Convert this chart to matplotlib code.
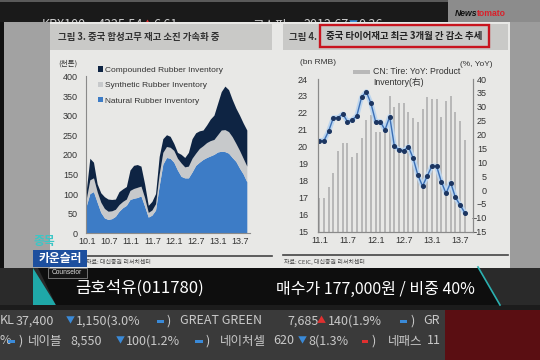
import matplotlib
matplotlib.use('Agg')
import matplotlib.pyplot as plt
from matplotlib.patches import Rectangle, Polygon, Patch
from matplotlib.lines import Line2D
from matplotlib import font_manager as fm

W, H, DPI = 540, 360, 100

installed = {f.name for f in fm.fontManager.ttflist}
NARROW = 'Liberation Sans Narrow' if 'Liberation Sans Narrow' in installed else 'Liberation Sans'
KR = 'Noto Sans CJK KR'
plt.rcParams['font.family'] = [NARROW, KR, 'DejaVu Sans']
plt.rcParams['axes.unicode_minus'] = True

# ---------------- data: Chinese rubber inventory (thousand tons), monthly 2010.1 - 2013.9
rubber_ticks = ['10.1', '10.7', '11.1', '11.7', '12.1', '12.7', '13.1', '13.7']
natural = [68, 100, 105, 78, 52, 38, 34, 36, 42, 55, 64, 70, 85, 88, 90, 94, 68, 40, 45, 58,
           120, 175, 192, 190, 180, 160, 144, 140, 140, 155, 172, 180, 187, 192, 196, 200,
           206, 208, 207, 203, 192, 182, 165, 150, 130]
synthetic = [17, 35, 35, 27, 26, 24, 21, 20, 18, 17, 16, 16, 23, 25, 26, 25, 22, 12, 13, 16,
             30, 30, 28, 28, 30, 30, 34, 28, 30, 35, 31, 35, 35, 38, 39, 38,
             44, 54, 56, 55, 53, 46, 45, 40, 40]
compounded = [21, 55, 40, 20, 24, 30, 31, 29, 26, 33, 32, 32, 52, 59, 58, 51, 35, 18, 22, 26,
              45, 35, 30, 28, 18, 15, 22, 24, 35, 50, 52, 45, 40, 45, 55, 62,
              80, 98, 111, 107, 95, 90, 90, 90, 92]
rubber_labels = ['Natural Rubber Inventory', 'Synthetic Rubber Inventory',
                 'Compounded Rubber Inventory']

# ---------------- data: China tire inventory, monthly 2011.1 - 2013.8
tire_ticks = ['11.1', '11.7', '12.1', '12.7', '13.1', '13.7']
tire_level = [20.37, 20.37, 20.94, 21.72, 21.72, 21.94, 21.49, 21.58, 21.84, 22.92, 23.25,
              22.57, 21.49, 21.49, 21.0, 21.78, 20.05, 19.82, 19.78, 20.01, 19.33, 18.34,
              17.69, 18.28, 18.87, 18.87, 17.95, 17.26, 17.89, 17.03, 16.58, 16.12]
tire_yoy = [-3, -3, 1, 6, 14.2, 16.8, 16.8, 11.8, 13.5, 18.6, 25.2, 27, 21, 21, 21.5, 34,
            29.8, 31.2, 31.5, 28.2, 25.8, 24.6, 29.1, 33.4, 32.7, 32.7, 26.2, 32.2, 34,
            28.2, 24.9, 18.0]
tire_legend = ['CN: Tire: YoY: Product', 'Inventory(右)']

title3 = '그림 3. 중국 합성고무 재고 소진 가속화 중'
title4_a = '그림 4.'
title4_b = '중국 타이어재고 최근 3개월 간 감소 추세'
stock_name = '금호석유(011780)'
stock_info = '매수가 177,000원 / 비중 40%'

fig = plt.figure(figsize=(W / DPI, H / DPI), dpi=DPI)
fig.patch.set_facecolor('#1a1a1a')


def R(x0, y0, x1, y1, color, z, **kw):
    fig.add_artist(Rectangle((x0 / W, 1 - y1 / H), (x1 - x0) / W, (y1 - y0) / H,
                             transform=fig.transFigure, facecolor=color,
                             edgecolor=kw.pop('ec', 'none'), zorder=z, **kw))


def T(x, y, s, **kw):
    kw.setdefault('va', 'center')
    return fig.text(x / W, 1 - y / H, s, **kw)


def HL(x0, x1, y, color, lw, z=2):
    fig.add_artist(Line2D([x0 / W, x1 / W], [1 - y / H, 1 - y / H], transform=fig.transFigure,
                          color=color, lw=lw, zorder=z))


def axes_px(x0, y0, x1, y1):
    return fig.add_axes([x0 / W, 1 - y1 / H, (x1 - x0) / W, (y1 - y0) / H])


KRF = [KR, 'DejaVu Sans']

# ---------------- background pieces
R(0, 0, 540, 2, '#5a5a5a', 0.1)
R(448, 0, 540, 22, '#8c8c8c', 0.1)
T(455, 14, 'News', fontsize=6.2, fontweight='bold', style='italic', color='#111', zorder=0.2)
T(477, 14, 'tomato', fontsize=6.2, fontweight='bold', color='#d8202a', zorder=0.2)

top_items = [(42, 'KRX100', '#cfcfcf', 9), (98, '4325.54', '#cfcfcf', 9), (143, '▲', '#e03030', 6.5),
             (153, '6.61', '#cfcfcf', 9), (252, '코스피', '#cfcfcf', 9), (303, '2012.67', '#cfcfcf', 9),
             (349, '▼', '#3a8ad8', 6.5), (358, '0.36', '#cfcfcf', 9)]
for x, s, c, fs in top_items:
    T(x, 25, s, fontsize=fs, color=c, family=KRF, zorder=0.3)

R(0, 22, 540, 268, '#a2a2a2', 0.6)
R(0, 22, 4, 268, '#101010', 0.62)
R(510, 22, 540, 310, '#9c9c9c', 0.6)
R(0, 268, 540, 310, '#2a2a2a', 0.6)
R(50, 22, 510, 268, '#e8e8e6', 0.7)
R(50, 24, 272, 50, '#c9c9c7', 0.72)
R(283, 24, 508, 50, '#c9c9c7', 0.72)

# titles
T(58, 37, title3, fontsize=6.8, fontweight='bold', color='#333', family=KRF, zorder=3)
T(289, 37, title4_a, fontsize=6.8, fontweight='bold', color='#333', family=KRF, zorder=3)
T(326, 36, title4_b, fontsize=6.8, fontweight='bold', color='#222', family=KRF, zorder=3)
fig.add_artist(Rectangle((320 / W, 1 - 47 / H), 169 / W, 22 / H, transform=fig.transFigure,
                         facecolor='none', edgecolor='#c8141e', lw=1.7, zorder=3))

# ---------------- left chart: stacked area
axL = axes_px(85.7, 76.4, 249.5, 233.3)
axL.set_zorder(1)
axL.patch.set_visible(False)
months_r = list(range(len(natural)))
cols = ['#3d7cc6', '#c7c9cb', '#0e2443']
axL.stackplot(months_r, natural, synthetic, compounded, colors=cols, labels=rubber_labels, lw=0)
axL.set_xlim(-0.27, 44.6)
axL.set_ylim(0, 400)
axL.set_yticks(range(0, 401, 50))
axL.set_xticks(range(0, 43, 6))
axL.set_xticklabels(rubber_ticks)
for s in ['top', 'right']:
    axL.spines[s].set_visible(False)
for s in ['left', 'bottom']:
    axL.spines[s].set_color('#8a8a8a')
    axL.spines[s].set_linewidth(0.8)
axL.tick_params(axis='both', length=0, labelsize=6.5, labelcolor='#333')
axL.tick_params(axis='y', pad=5.5)
axL.tick_params(axis='x', pad=3)
T(78, 64, '(천톤)', fontsize=5.5, color='#333', ha='right', family=KRF, zorder=3)
handles = [Patch(facecolor=c, edgecolor='none') for c in cols][::-1]
leg = axL.legend(handles, rubber_labels[::-1], loc='upper left',
                 bbox_to_anchor=(98 / W, 1 - 66.5 / H), bbox_transform=fig.transFigure,
                 frameon=False, fontsize=6, handlelength=0.55, handleheight=0.55,
                 handletextpad=0.25, labelspacing=0.95, borderpad=0, borderaxespad=0)
for t in leg.get_texts():
    t.set_color('#333')

# ---------------- right chart: bars (right axis) + line (left axis)
axB = axes_px(317.7, 79, 472.7, 231.7)
axB.set_zorder(1)
axB.patch.set_visible(False)
months_t = list(range(len(tire_yoy)))
axB.bar(months_t, [v + 15 for v in tire_yoy], bottom=-15, width=0.42, color='#b8b8b8', lw=0)
axB.set_ylim(-15, 40)
axB.set_yticks(range(-15, 41, 5))
axB.set_xlim(-0.35, 32.7)
axB.set_xticks(range(0, 31, 6))
axB.set_xticklabels(tire_ticks)

axN = axB.twinx()
axN.set_zorder(1.1)
axN.patch.set_visible(False)
axN.plot(months_t, tire_level, color='#bcd5ee', lw=3.6, solid_capstyle='round')
axN.plot(months_t, tire_level, color='#3b6fb5', lw=1.0, marker='o', ms=2.6,
         mfc='#1c3560', mec='#1c3560')
axN.set_ylim(15, 24)
axN.set_yticks(range(15, 25))

axB.yaxis.tick_right()
axB.yaxis.set_label_position('right')
axN.yaxis.tick_left()
axN.yaxis.set_label_position('left')
axB.tick_params(axis='both', length=0, labelsize=6.5, labelcolor='#333')
axB.tick_params(axis='y', pad=10.3, labelleft=False, labelright=True)
axB.tick_params(axis='x', pad=3)
axN.tick_params(axis='both', length=0, labelsize=6.5, labelcolor='#333')
axN.tick_params(axis='y', pad=7, labelleft=True, labelright=False)
for lab in axB.get_yticklabels():
    lab.set_horizontalalignment('right')
for ax in (axB, axN):
    ax.spines['top'].set_visible(False)
    for s in ['left', 'right', 'bottom']:
        ax.spines[s].set_color('#8a8a8a')
        ax.spines[s].set_linewidth(0.8)

T(300, 63, '(bn RMB)', fontsize=6, color='#333', zorder=3)
T(493, 64, '(%, YoY)', fontsize=6, color='#333', ha='right', zorder=3)
R(353, 69.5, 370, 73.5, '#b8b8b8', 3)
T(373, 71, tire_legend[0], fontsize=6.3, color='#333', zorder=3)
T(373, 82, tire_legend[1], fontsize=6.3, color='#333', family=[NARROW, KR], zorder=3)

# source lines
HL(88, 272, 256, '#444', 1.2)
HL(283, 508, 255, '#444', 1.2)
T(86, 262, '자료: 대신증권 리서치센터', fontsize=4.3, color='#444', family=KRF, zorder=3)
T(284, 262, '자료: CEIC, 대신증권 리서치센터', fontsize=4.3, color='#444', family=KRF, zorder=3)

# ---------------- bottom banner
fig.add_artist(Polygon([(33 / W, 1 - 268 / H), (33 / W, 1 - 305 / H), (56 / W, 1 - 305 / H)],
                       closed=True, transform=fig.transFigure, facecolor='#1fa8a8',
                       edgecolor='none', zorder=4))
fig.add_artist(Polygon([(38 / W, 1 - 268 / H), (478 / W, 1 - 268 / H), (500 / W, 1 - 305 / H),
                        (56 / W, 1 - 305 / H)], closed=True, transform=fig.transFigure,
                       facecolor='#0e0e0e', edgecolor='none', zorder=4))
fig.add_artist(Line2D([478 / W, 500 / W], [1 - 267 / H, 1 - 305 / H], transform=fig.transFigure,
                      color='#2bb0b0', lw=1.2, zorder=4.1))
T(75, 288, stock_name, fontsize=12, fontweight='medium', color='white', family=KRF, zorder=5)
T(475, 289, stock_info, fontsize=11.5, fontweight='medium', color='white', ha='right',
  family=KRF, zorder=5)

# badge
T(34, 241, '종목', fontsize=8.5, fontweight='bold', color='#3cc6c6', family=KRF, zorder=6)
R(33, 250, 87, 267, '#1d4f9e', 6)
T(60, 258.5, '카운슬러', fontsize=8.5, fontweight='bold', color='white', ha='center',
  family=KRF, zorder=6.5)
fig.add_artist(Rectangle((48 / W, 1 - 278 / H), 39 / W, 10 / H, transform=fig.transFigure,
                         facecolor='#151515', edgecolor='#9a9a9a', lw=0.5, zorder=6))
T(67, 273, 'Counselor', fontsize=4.8, color='#dddddd', ha='center', zorder=6.5)

# ---------------- bottom ticker
R(0, 305, 540, 310, '#1c1c1c', 0.65)
R(0, 310, 540, 360, '#3a3a3a', 0.65)
TXT = '#c9c9c9'
BLU = '#3a8ad8'
RED = '#e03030'
row1 = [(0, 'KL', TXT, 9), (16, '37,400', TXT, 9), (66, '▼', BLU, 6.5), (76, '1,150(3.0%', TXT, 9),
        (166, ')', TXT, 9), (180, 'GREAT GREEN', TXT, 9), (287, '7,685', TXT, 9),
        (317, '▲', RED, 6.5), (328, '140(1.9%', TXT, 9), (410, ')', TXT, 9), (423, 'GR', TXT, 9)]
row2 = [(0, '%', TXT, 9), (18, ')', TXT, 9), (28, '네이블', TXT, 9), (70, '8,550', TXT, 9),
        (116, '▼', BLU, 6.5), (126, '100(1.2%', TXT, 9), (205, ')', TXT, 9),
        (220, '네이처셀', TXT, 9), (273, '620', TXT, 9), (298, '▼', BLU, 6.5),
        (308, '8(1.3%', TXT, 9), (371, ')', TXT, 9), (388, '네패스', TXT, 9), (427, '11', TXT, 9)]
for y, row in ((321, row1), (341, row2)):
    for x, s, c, fs in row:
        T(x, y, s, fontsize=fs, color=c, family=KRF, zorder=0.8)
for x0, x1, y, c in [(157, 164, 321, BLU), (400, 407, 321, BLU), (8, 15, 341, BLU),
                     (195, 203, 341, BLU), (362, 368, 341, RED)]:
    R(x0, y - 1.5, x1, y + 1.5, c, 0.85)
R(445, 310, 540, 360, '#5a0e12', 0.9)

fig.savefig('out.png', dpi=DPI)
